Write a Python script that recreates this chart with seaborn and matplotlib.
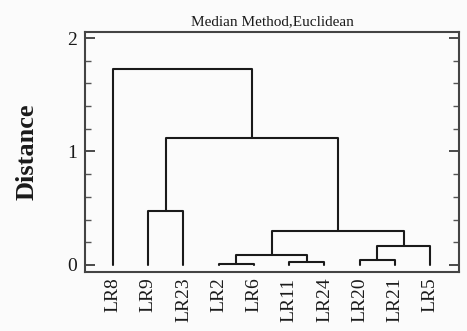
import matplotlib
matplotlib.use("Agg")
import matplotlib.pyplot as plt
from matplotlib.ticker import MultipleLocator
import seaborn as sns
import pandas as pd

# ---- data ----
leaf_labels = ["LR8", "LR9", "LR23", "LR2", "LR6", "LR11", "LR24", "LR20", "LR21", "LR5"]
# merges: (left child, right child, height); children are leaf names or cluster ids "c<k>"
merge_left = ["LR2", "LR11", "LR20", "c0", "c2", "c3", "LR9", "c6", "LR8"]
merge_right = ["LR6", "LR24", "LR21", "c1", "LR5", "c4", "LR23", "c5", "c7"]
merge_height = [0.005, 0.024, 0.044, 0.088, 0.165, 0.295, 0.476, 1.12, 1.727]
y_ticks = [0, 1, 2]
title = "Median Method,Euclidean"
y_label = "Distance"

# ---- build dendrogram segments ----
pos = {name: float(i) for i, name in enumerate(leaf_labels)}
hgt = {name: 0.0 for name in leaf_labels}
rows = []
for k, (a, b, h) in enumerate(zip(merge_left, merge_right, merge_height)):
    xa, xb = pos[a], pos[b]
    ya, yb = hgt[a], hgt[b]
    for x, y in [(xa, ya), (xa, h), (xb, h), (xb, yb)]:
        rows.append({"x": x, "y": y, "link": k})
    pos[f"c{k}"] = (xa + xb) / 2
    hgt[f"c{k}"] = h
df = pd.DataFrame(rows)

# ---- plot ----
sns.set_style("ticks")
plt.rcParams["font.family"] = ["Liberation Serif", "DejaVu Serif"]

fig = plt.figure(figsize=(4.67, 3.31), dpi=100, facecolor="#fbfbfb")
ax = fig.add_axes([85 / 467, 1 - 272 / 331, (459 - 85) / 467, (272 - 32) / 331])
ax.set_facecolor("#fbfbfb")

sns.lineplot(data=df, x="x", y="y", units="link", estimator=None, sort=False,
             color="#1a1a1a", linewidth=1.5, ax=ax, legend=False)

ax.set_xlim(-0.795, 9.82)
ax.set_ylim(-0.062, 2.053)
ax.set_xticks(range(len(leaf_labels)))
ax.set_xticklabels(leaf_labels, rotation=90, fontsize=14, va="top", ha="center")
ax.set_yticks(y_ticks)
ax.set_yticklabels([str(t) for t in y_ticks], fontsize=14)
ax.yaxis.set_minor_locator(MultipleLocator(0.2))
ax.tick_params(axis="x", length=0, pad=4, colors="#1a1a1a")
ax.tick_params(axis="y", which="major", direction="in", length=7, width=1.1,
               left=True, right=True, pad=6, colors="#1a1a1a")
ax.tick_params(axis="y", which="minor", direction="in", length=4, width=1.0,
               left=True, right=True, colors="#555555")
for s in ax.spines.values():
    s.set_visible(True)
    s.set_linewidth(1.5)
    s.set_color("#444444")

ax.set_xlabel("")
ax.set_ylabel(y_label, fontsize=19, fontweight="bold", labelpad=20, color="#1a1a1a")
ax.set_title(title, fontsize=11, pad=5, color="#1a1a1a")

fig.savefig("out.png", dpi=100, facecolor=fig.get_facecolor())
